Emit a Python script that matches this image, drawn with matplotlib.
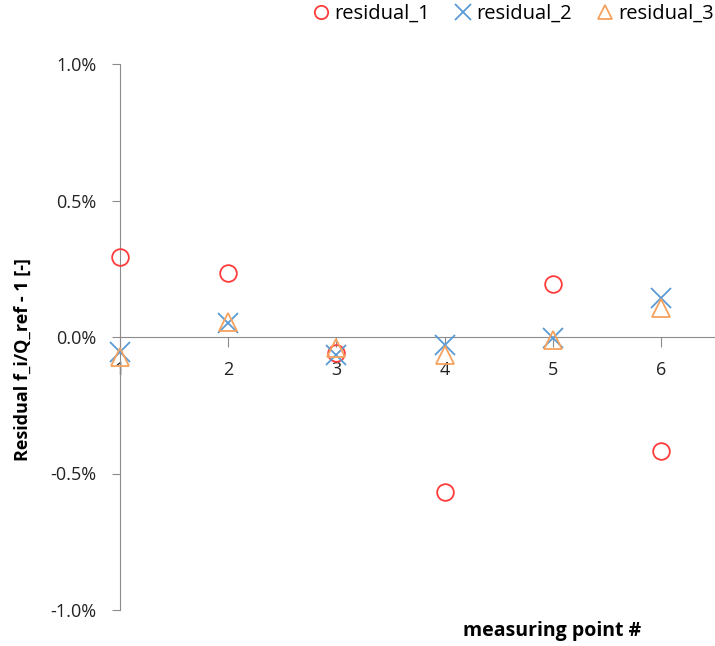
import matplotlib.pyplot as plt
from matplotlib.ticker import FuncFormatter

# data ------------------------------
points = [1, 2, 3, 4, 5, 6]
residual_1 = [0.293, 0.234, -0.060, -0.568, 0.194, -0.416]
residual_2 = [-0.055, 0.052, -0.066, -0.030, -0.004, 0.143]
residual_3 = [-0.075, 0.056, -0.040, -0.066, -0.010, 0.106]
y_ticks = [-1.0, -0.5, 0.0, 0.5, 1.0]

plt.rcParams['font.family'] = ['Open Sans', 'DejaVu Sans']

fig = plt.figure(figsize=(7.15, 6.46), dpi=100)
ax = fig.add_axes([120 / 715, 1 - 610 / 646, 1 - 120 / 715, (610 - 64) / 646])

# series (drawn above the axis so they cover the tick labels like the original)
ax.plot(points, residual_1, 'o', ms=12, mfc='none', mec='#FF3B3B', mew=1.3, label='residual_1', clip_on=False, zorder=5)
ax.plot(points, residual_2, 'x', ms=15, mec='#5B9BD5', mew=1.3, label='residual_2', clip_on=False, zorder=5)
ax.plot(points, residual_3, '^', ms=13, mfc='none', mec='#F6A25E', mew=1.3, label='residual_3', clip_on=False, zorder=5)

# axes styling -------------------------
ax.set_xlim(1, 6.5)
ax.set_ylim(-1.0, 1.0)
ax.set_yticks(y_ticks)
ax.yaxis.set_major_formatter(FuncFormatter(lambda v, p: f'{v:.1f}%'))
ax.set_xticks(points)

for side in ['top', 'right']:
    ax.spines[side].set_visible(False)
ax.spines['bottom'].set_position(('data', 0))
ax.spines['bottom'].set_color('#8C8C8C')
ax.spines['left'].set_color('#8C8C8C')

ax.tick_params(axis='y', direction='out', length=6, color='#8C8C8C', labelsize=13, pad=11, labelcolor='#222222')
ax.tick_params(axis='x', direction='out', length=7, color='#8C8C8C', labelsize=13, pad=10.5, labelcolor='#222222')

ax.set_ylabel('Residual f_i/Q_ref - 1 [-]', fontsize=13, fontweight='bold')
ax.yaxis.set_label_coords((32 - 120) / 595, (610 - 360) / 546)
fig.text(552 / 715, 1 - 631 / 646, 'measuring point #', fontsize=14, fontweight='bold', ha='center', va='center')

fig.legend(loc='center right', bbox_to_anchor=(714 / 715, 1 - 14 / 646), ncol=3, frameon=False,
           fontsize=14.5, handletextpad=0.0, columnspacing=1.0, markerscale=0.8, handlelength=1.3,
           borderaxespad=0, borderpad=0)

fig.savefig('out.png', dpi=100)
